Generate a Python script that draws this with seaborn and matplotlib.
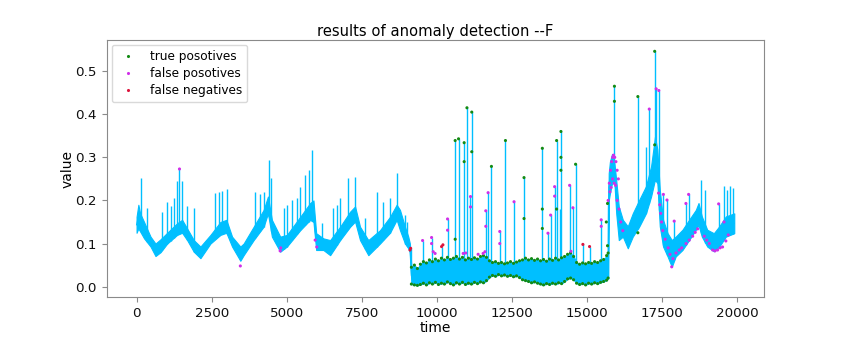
import numpy as np
import pandas as pd
import matplotlib
matplotlib.use("Agg")
import matplotlib.pyplot as plt
import seaborn as sns

# ---------------- data ----------------
TITLE = "results of anomaly detection --F"
X_LABEL = "time"
Y_LABEL = "value"
X_TICKS = [0, 2500, 5000, 7500, 10000, 12500, 15000, 17500, 20000]
Y_TICKS = [0.0, 0.1, 0.2, 0.3, 0.4, 0.5]
LABELS = ["true posotives", "false posotives", "false negatives"]

# envelope of the dense (noisy) series: time, lower edge, upper edge
band_t = [0, 60, 120, 250, 465, 630, 800, 1020, 1350, 1517, 1684, 1905, 2126,
          2459, 2790, 2990, 3180, 3455, 3565, 3898, 4230, 4374, 4506, 4783,
          5005, 5449, 5780, 5890, 5980, 6220, 6445, 6777, 7110, 7275, 7440,
          7716, 8105, 8438, 8660, 8770, 8936, 9046, 9100,
          9150, 9250, 9350, 9450, 9550, 9650, 9750, 9850, 9950, 10050, 10150,
          10250, 10350, 10450, 10550, 10650, 10750, 10850, 10950, 11050, 11150,
          11250, 11350, 11450, 11550, 11650, 11750, 11850, 11950, 12050, 12150,
          12250, 12350, 12450, 12550, 12650, 12750, 12850, 12950, 13050, 13150,
          13250, 13350, 13450, 13550, 13650, 13750, 13850, 13950, 14050, 14150,
          14250, 14350, 14450, 14550, 14650, 14750, 14850, 14950, 15050, 15150,
          15250, 15350, 15450, 15550, 15650, 15700,
          15720, 15760, 15830, 15910, 15970, 16055, 16190, 16355, 16520, 16740,
          16960, 17130, 17260, 17340, 17420, 17530, 17680, 17820, 17950, 18175,
          18395, 18620, 18710, 18820, 19000, 19220, 19400, 19620, 19900]
band_lo = [0.125, 0.135, 0.128, 0.112, 0.093, 0.071, 0.080, 0.100, 0.120, 0.125,
           0.108, 0.081, 0.066, 0.100, 0.120, 0.125, 0.093, 0.060, 0.073, 0.108,
           0.139, 0.170, 0.116, 0.081, 0.093, 0.131, 0.155, 0.150, 0.085, 0.085,
           0.073, 0.108, 0.139, 0.151, 0.108, 0.073, 0.100, 0.125, 0.155, 0.131,
           0.100, 0.089, 0.080,
           0.006, 0.004, 0.003, 0.005, 0.008, 0.004, 0.009, 0.006, 0.010, 0.005,
           0.008, 0.006, 0.011, 0.007, 0.004, 0.009, 0.006, 0.010, 0.005, 0.008,
           0.006, 0.010, 0.007, 0.011, 0.009, 0.014, 0.022, 0.026, 0.024, 0.028,
           0.025, 0.027, 0.024, 0.026, 0.023, 0.025, 0.021, 0.016, 0.014, 0.012,
           0.009, 0.011, 0.008, 0.006, 0.004, 0.007, 0.005, 0.008, 0.006, 0.009,
           0.007, 0.012, 0.018, 0.020, 0.016, 0.008, 0.005, 0.007, 0.004, 0.008,
           0.006, 0.009, 0.007, 0.010, 0.012, 0.015, 0.020,
           0.200, 0.216, 0.240, 0.240, 0.170, 0.108, 0.116, 0.089, 0.116, 0.140,
           0.170, 0.209, 0.248, 0.240, 0.140, 0.093, 0.070, 0.046, 0.070, 0.085,
           0.108, 0.132, 0.143, 0.116, 0.093, 0.082, 0.093, 0.116, 0.124]
band_hi = [0.162, 0.190, 0.170, 0.150, 0.116, 0.100, 0.110, 0.125, 0.147, 0.155,
           0.135, 0.108, 0.093, 0.120, 0.150, 0.155, 0.116, 0.093, 0.100, 0.139,
           0.178, 0.209, 0.155, 0.116, 0.120, 0.162, 0.194, 0.200, 0.124, 0.112,
           0.108, 0.139, 0.174, 0.186, 0.139, 0.108, 0.131, 0.162, 0.190, 0.178,
           0.139, 0.116, 0.100,
           0.045, 0.050, 0.042, 0.052, 0.058, 0.055, 0.062, 0.058, 0.064, 0.060,
           0.066, 0.062, 0.068, 0.063, 0.066, 0.070, 0.064, 0.068, 0.062, 0.066,
           0.063, 0.067, 0.064, 0.070, 0.072, 0.068, 0.060, 0.056, 0.058, 0.054,
           0.056, 0.053, 0.055, 0.058, 0.054, 0.057, 0.060, 0.062, 0.066, 0.062,
           0.065, 0.061, 0.064, 0.060, 0.063, 0.059, 0.064, 0.061, 0.066, 0.062,
           0.067, 0.070, 0.075, 0.078, 0.070, 0.056, 0.052, 0.055, 0.053, 0.056,
           0.054, 0.058, 0.056, 0.060, 0.063, 0.072, 0.078,
           0.263, 0.290, 0.308, 0.286, 0.247, 0.186, 0.155, 0.140, 0.170, 0.202,
           0.233, 0.279, 0.348, 0.318, 0.225, 0.155, 0.124, 0.108, 0.116, 0.132,
           0.155, 0.178, 0.194, 0.163, 0.132, 0.124, 0.140, 0.163, 0.170]

# isolated spikes of the series: time, peak value
spike_t = [133, 355, 853, 997, 1130, 1240, 1350, 1429, 1517, 1684, 1905, 2624,
           2735, 2846, 3013, 3953, 4119, 4230, 4396, 4475, 4894, 5005, 5172,
           5338, 5449, 5615, 5725, 5836, 6168, 6555, 6665, 6777, 7053, 7275,
           7607, 7996, 8216, 8438, 8660, 8936, 8990,
           9125, 9523, 9822, 10155, 10354, 10608, 10720, 10907, 11000, 11118,
           11160, 11627, 11704, 11815, 12092, 12282, 12568, 12900, 13510, 13697,
           13786, 13919, 13985, 14085, 14129, 14418, 14528, 14617, 14860, 15082,
           15470, 15680,
           15910, 16690, 16960, 17070, 17250, 17300, 17390, 17520, 17660, 17900,
           18290, 18380, 18790, 18930, 19380, 19550, 19650, 19760, 19850]
spike_v = [0.252, 0.182, 0.174, 0.197, 0.186, 0.205, 0.244, 0.273, 0.244, 0.186,
           0.182, 0.217, 0.220, 0.222, 0.226, 0.220, 0.214, 0.220, 0.294, 0.252,
           0.182, 0.190, 0.200, 0.205, 0.232, 0.259, 0.271, 0.317, 0.147, 0.182,
           0.190, 0.205, 0.252, 0.255, 0.159, 0.220, 0.197, 0.205, 0.263, 0.166,
           0.150,
           0.089, 0.107, 0.114, 0.093, 0.157, 0.339, 0.343, 0.334, 0.415, 0.209,
           0.405, 0.176, 0.218, 0.279, 0.128, 0.339, 0.197, 0.253, 0.321, 0.124,
           0.166, 0.232, 0.339, 0.180, 0.360, 0.235, 0.183, 0.284, 0.098, 0.093,
           0.155, 0.193,
           0.465, 0.441, 0.325, 0.412, 0.546, 0.459, 0.455, 0.214, 0.201, 0.152,
           0.193, 0.214, 0.248, 0.225, 0.192, 0.233, 0.224, 0.233, 0.229]

# detected points (besides the edges of the 9150-15700 stretch, which are true positives)
tp_t = [10608, 10608, 10720, 10907, 10907, 11000, 11160, 11160, 11815, 12282,
        12900, 12900, 13510, 13510, 13510, 13985, 13985, 14129, 14129, 14129,
        14617, 15680, 15680, 15640, 15910, 15910, 16690, 16690, 17250, 17250]
tp_v = [0.339, 0.110, 0.343, 0.334, 0.290, 0.415, 0.405, 0.313, 0.279, 0.339,
        0.253, 0.158, 0.321, 0.180, 0.135, 0.339, 0.180, 0.360, 0.300, 0.270,
        0.284, 0.193, 0.095, 0.150, 0.465, 0.430, 0.441, 0.125, 0.546, 0.329]
fp_t = [1429, 3455, 4780, 4800, 5946, 6000, 9523, 9822, 9822, 9877, 9940,
        10354, 10354, 10874, 10960, 11118, 11118, 11372, 11538, 11600, 11627,
        11627, 11704, 12092, 12092, 12568, 13697, 13786, 13919, 13919, 14418,
        14460, 14528, 15470, 15470,
        15700, 15740, 15780, 15820, 15850, 15880, 15920, 15960, 16000, 16040,
        15760, 15800, 15850, 15900, 15950, 16000, 16060, 16120, 16190,
        17070, 17300, 17390, 17380, 17420, 17450, 17480, 17520, 17540, 17600,
        17660, 17700, 17760, 17817, 17860, 17900, 17960, 18070, 18150, 18295,
        18400, 18515, 18600, 18680, 18290, 18380, 18903, 18980, 19070, 19180,
        19260, 19344, 19380, 19430, 19510, 19620, 19560, 19700]
fp_v = [0.273, 0.048, 0.083, 0.090, 0.108, 0.092, 0.107, 0.114, 0.100, 0.081,
        0.077, 0.157, 0.131, 0.077, 0.078, 0.209, 0.185, 0.075, 0.077, 0.081,
        0.176, 0.140, 0.218, 0.128, 0.100, 0.197, 0.124, 0.166, 0.232, 0.210,
        0.235, 0.082, 0.183, 0.155, 0.140,
        0.200, 0.240, 0.270, 0.290, 0.300, 0.305, 0.300, 0.290, 0.270, 0.250,
        0.220, 0.230, 0.250, 0.240, 0.235, 0.200, 0.180, 0.150, 0.130,
        0.412, 0.459, 0.455, 0.217, 0.190, 0.170, 0.150, 0.130, 0.214, 0.110,
        0.201, 0.090, 0.075, 0.046, 0.065, 0.152, 0.078, 0.085, 0.090, 0.100,
        0.108, 0.117, 0.126, 0.134, 0.193, 0.214, 0.117, 0.108, 0.100, 0.085,
        0.083, 0.085, 0.192, 0.090, 0.092, 0.106, 0.150, 0.120]
fn_t = [9103, 9125, 10155, 10200, 14860, 15082]
fn_v = [0.085, 0.089, 0.093, 0.097, 0.098, 0.093]

# ---------------- styling ----------------
LINE = "#00bfff"
COLORS = {LABELS[0]: "#138a13", LABELS[1]: "#d02fe8", LABELS[2]: "#dc143c"}

plt.rcParams["font.family"] = ["DejaVu Sans"]
plt.rcParams["axes.edgecolor"] = "#8a8a8a"

fig, ax = plt.subplots(figsize=(8.5, 3.4), dpi=100)
fig.subplots_adjust(left=0.1255, right=0.899, bottom=0.126, top=0.882)

# dense band: two observations per time, the band spans min..max
band_df = pd.DataFrame({"time": band_t + band_t, "value": band_lo + band_hi})
sns.lineplot(data=band_df, x="time", y="value", estimator="mean",
             errorbar=("pi", 100), color=LINE, linewidth=0.8,
             err_kws={"alpha": 1.0, "linewidth": 0.8, "edgecolor": LINE},
             ax=ax, legend=False)

# spikes rising from the band
spike_base = np.interp(spike_t, band_t, band_lo)
ax.vlines(spike_t, spike_base, spike_v, colors=LINE, linewidth=1.0, zorder=2)

# markers
bt = np.array(band_t)
seg2 = (bt >= 9150) & (bt <= 15700)
tp_all_t = list(bt[seg2]) + list(bt[seg2]) + tp_t
tp_all_v = list(np.array(band_lo)[seg2]) + list(np.array(band_hi)[seg2]) + tp_v
mk = pd.DataFrame({
    "time": tp_all_t + fp_t + fn_t,
    "value": tp_all_v + fp_v + fn_v,
    "kind": [LABELS[0]] * len(tp_all_t) + [LABELS[1]] * len(fp_t) + [LABELS[2]] * len(fn_t),
})
sns.scatterplot(data=mk, x="time", y="value", hue="kind", hue_order=LABELS,
                palette=COLORS, s=5, linewidth=0, ax=ax, zorder=3)

ax.set_xlim(-995, 20895)
ax.set_ylim(-0.0244, 0.572)
ax.set_xticks(X_TICKS)
ax.set_yticks(Y_TICKS)
ax.set_yticklabels([f"{v:.1f}" for v in Y_TICKS])
ax.tick_params(labelsize=9.7, colors="#8a8a8a", labelcolor="#111111", length=3.5, width=0.8)
ax.set_xlabel(X_LABEL, fontsize=10, labelpad=1)
ax.set_ylabel(Y_LABEL, fontsize=10, labelpad=0.5)
ax.set_title(TITLE, fontsize=10.6, pad=3)
for s in ax.spines.values():
    s.set_linewidth(0.8)

handles, labels = ax.get_legend_handles_labels()
ax.legend(handles, labels, loc="upper left", fontsize=8.7, markerscale=1.0,
          frameon=True, framealpha=0.8, edgecolor="#d0d0d0",
          labelspacing=0.35, borderaxespad=0.4)

fig.savefig("out.png", dpi=100)
